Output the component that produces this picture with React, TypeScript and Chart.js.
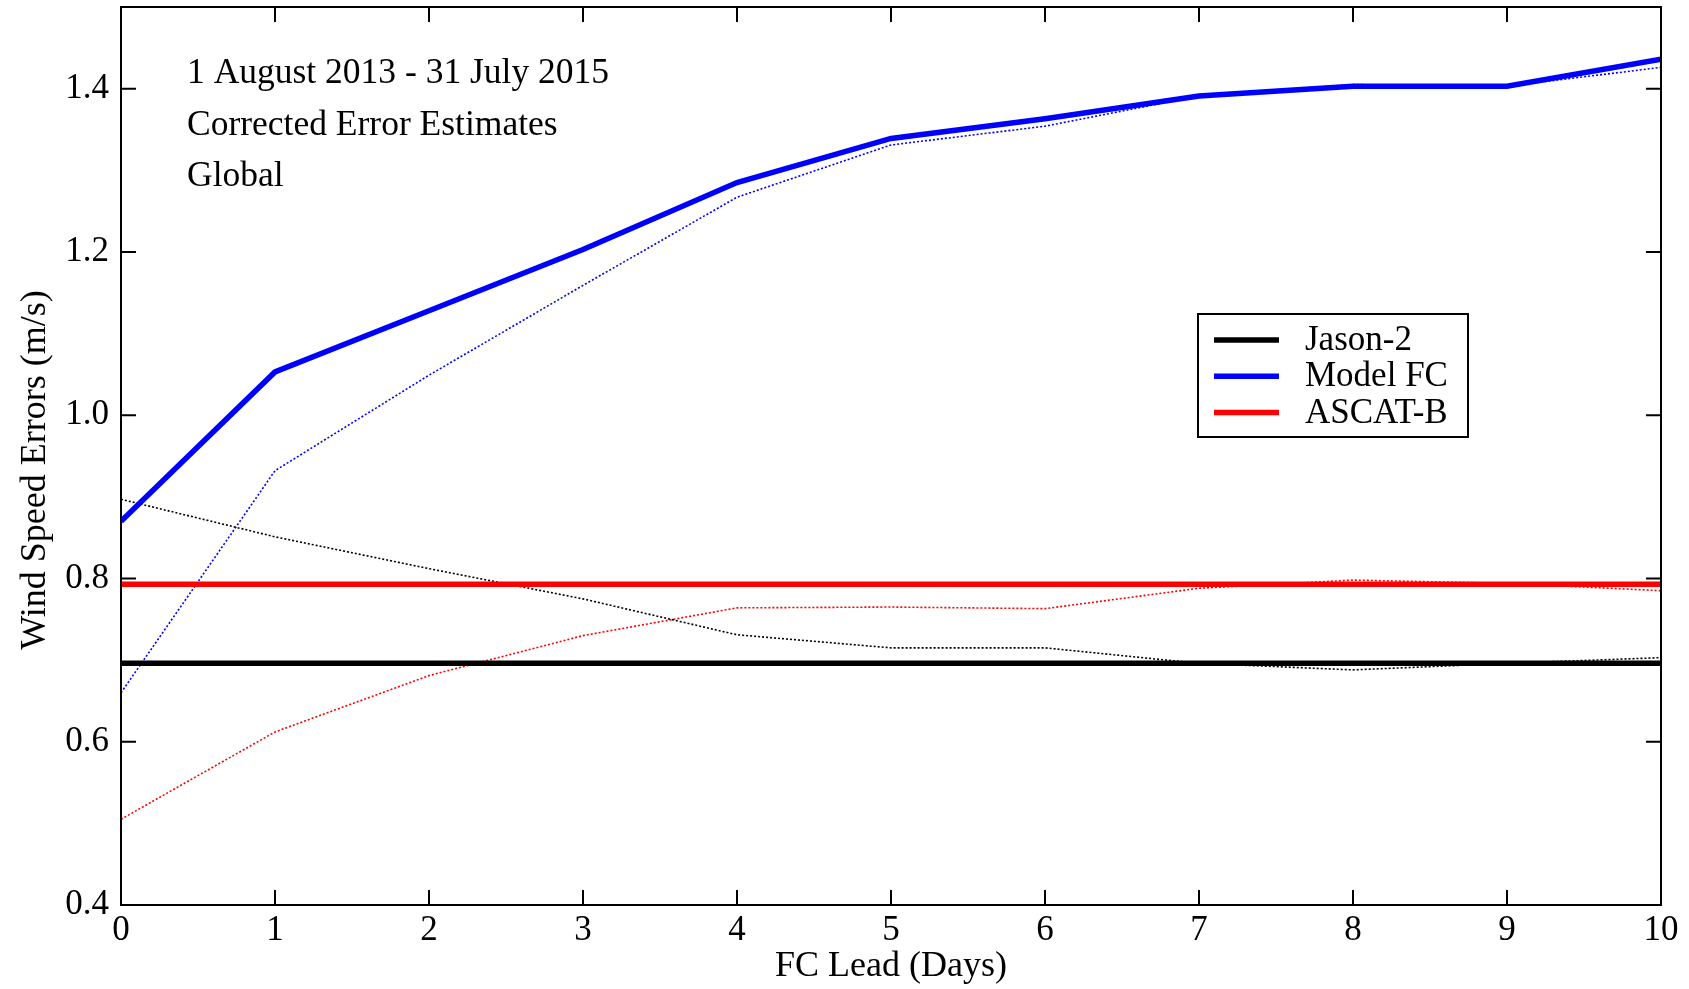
import React, { useEffect, useRef } from "react";
import { Chart, registerables } from "chart.js";

Chart.register(...registerables);

// ---- data ----
const DAYS = [0, 1, 2, 3, 4, 5, 6, 7, 8, 9, 10];
const Y_TICKS = [0.4, 0.6, 0.8, 1.0, 1.2, 1.4];

const SERIES_NAMES = ["Jason-2", "Model FC", "ASCAT-B"];
const SERIES_COLORS = ["#000000", "#0000ff", "#ff0000"];

// corrected error estimates (thick solid lines)
const JASON2_CORRECTED = [0.696, 0.696, 0.696, 0.696, 0.696, 0.696, 0.696, 0.696, 0.696, 0.696, 0.696];
const MODEL_CORRECTED = [0.870, 1.053, 1.128, 1.203, 1.285, 1.339, 1.363, 1.391, 1.403, 1.403, 1.436];
const ASCAT_CORRECTED = [0.793, 0.793, 0.793, 0.793, 0.793, 0.793, 0.793, 0.793, 0.793, 0.793, 0.793];

// uncorrected estimates (thin dotted lines)
const JASON2_RAW = [0.897, 0.851, 0.812, 0.775, 0.731, 0.715, 0.715, 0.696, 0.688, 0.696, 0.703];
const MODEL_RAW = [0.660, 0.932, 1.049, 1.159, 1.267, 1.331, 1.354, 1.391, 1.405, 1.403, 1.426];
const ASCAT_RAW = [0.505, 0.612, 0.681, 0.730, 0.764, 0.765, 0.763, 0.788, 0.798, 0.794, 0.785];

const ANNOTATION_LINES = ["1 August 2013 - 31 July 2015", "Corrected Error Estimates", "Global"];

const X_TITLE = "FC Lead (Days)";
const Y_TITLE = "Wind Speed Errors (m/s)";

const FONT = "'Liberation Serif', 'Times New Roman', serif";

const toPoints = (vals: number[]) => DAYS.map((d, i) => ({ x: d, y: vals[i] }));

const framePlugin = {
  id: "frameAndExtras",
  afterDatasetsDraw(chart: any) {
    const { ctx, chartArea: a, scales } = chart;
    ctx.save();
    // frame
    ctx.strokeStyle = "#000";
    ctx.lineWidth = 2;
    ctx.strokeRect(a.left, a.top, a.right - a.left, a.bottom - a.top);
    // inward ticks on all four sides
    const TL = 15;
    ctx.beginPath();
    scales.x.ticks.forEach((t: any) => {
      const px = scales.x.getPixelForValue(t.value);
      if (px <= a.left + 1 || px >= a.right - 1) return;
      ctx.moveTo(px, a.bottom);
      ctx.lineTo(px, a.bottom - TL);
      ctx.moveTo(px, a.top);
      ctx.lineTo(px, a.top + TL);
    });
    scales.y.ticks.forEach((t: any) => {
      const py = scales.y.getPixelForValue(t.value);
      if (py <= a.top + 1 || py >= a.bottom - 1) return;
      ctx.moveTo(a.left, py);
      ctx.lineTo(a.left + TL, py);
      ctx.moveTo(a.right, py);
      ctx.lineTo(a.right - TL, py);
    });
    ctx.stroke();

    // y-axis title
    ctx.save();
    ctx.fillStyle = "#000";
    ctx.font = `36px ${FONT}`;
    ctx.textAlign = "center";
    ctx.textBaseline = "middle";
    ctx.translate(36, 470);
    ctx.rotate(-Math.PI / 2);
    ctx.fillText(Y_TITLE, 0, 0);
    ctx.restore();

    // annotation text
    ctx.fillStyle = "#000";
    ctx.font = `35.5px ${FONT}`;
    ctx.textAlign = "left";
    ctx.textBaseline = "alphabetic";
    ANNOTATION_LINES.forEach((line, i) => {
      ctx.fillText(line, 187, 83 + i * 51.5);
    });

    // legend
    const bx = 1198, by = 314, bw = 270, bh = 123;
    ctx.fillStyle = "#fff";
    ctx.fillRect(bx, by, bw, bh);
    ctx.lineWidth = 2;
    ctx.strokeStyle = "#000";
    ctx.strokeRect(bx, by, bw, bh);
    ctx.textBaseline = "middle";
    ctx.font = `35px ${FONT}`;
    SERIES_NAMES.forEach((name, i) => {
      const y = 340 + i * 36.3;
      ctx.beginPath();
      ctx.strokeStyle = SERIES_COLORS[i];
      ctx.lineWidth = 5.5;
      ctx.moveTo(1214, y);
      ctx.lineTo(1279, y);
      ctx.stroke();
      ctx.fillStyle = "#000";
      ctx.fillText(name, 1305, y + 1);
    });
    ctx.restore();
  },
};

export default function App() {
  const canvasRef = useRef<HTMLCanvasElement | null>(null);

  useEffect(() => {
    if (!canvasRef.current) return;
    Chart.defaults.font.family = FONT;
    Chart.defaults.color = "#000";

    const solid = (vals: number[], idx: number) => ({
      label: SERIES_NAMES[idx],
      data: toPoints(vals),
      borderColor: SERIES_COLORS[idx],
      backgroundColor: SERIES_COLORS[idx],
      borderWidth: 5.5,
      pointRadius: 0,
      tension: 0,
      fill: false,
      order: 1,
    });
    const dotted = (vals: number[], idx: number) => ({
      label: SERIES_NAMES[idx] + " (uncorrected)",
      data: toPoints(vals),
      borderColor: SERIES_COLORS[idx],
      backgroundColor: SERIES_COLORS[idx],
      borderWidth: 1.6,
      borderDash: [2, 2],
      pointRadius: 0,
      tension: 0,
      fill: false,
      order: 2,
    });

    const chart = new Chart(canvasRef.current, {
      type: "line",
      data: {
        datasets: [
          solid(JASON2_CORRECTED, 0),
          solid(MODEL_CORRECTED, 1),
          solid(ASCAT_CORRECTED, 2),
          dotted(JASON2_RAW, 0),
          dotted(MODEL_RAW, 1),
          dotted(ASCAT_RAW, 2),
        ] as any,
      },
      options: {
        animation: false,
        responsive: false,
        devicePixelRatio: 1,
        layout: { padding: { top: 7, right: 28, left: 0, bottom: 0 } },
        plugins: {
          legend: { display: false },
          tooltip: { enabled: false },
        },
        scales: {
          x: {
            type: "linear",
            min: 0,
            max: 10,
            afterFit: (s: any) => {
              s.height = 84;
              s.paddingLeft = 0;
              s.paddingRight = 0;
            },
            grid: { display: false, drawTicks: false },
            border: { display: false },
            ticks: {
              stepSize: 1,
              padding: 5,
              color: "#000",
              font: { size: 35 },
              maxRotation: 0,
              autoSkip: false,
            },
            title: {
              display: true,
              text: X_TITLE,
              color: "#000",
              font: { size: 36 },
              padding: { top: 0, bottom: 1 },
            },
          },
          y: {
            type: "linear",
            min: 0.4,
            max: 1.5,
            afterBuildTicks: (s: any) => {
              s.ticks = Y_TICKS.map((v) => ({ value: v }));
            },
            afterFit: (s: any) => {
              s.width = 121;
              s.paddingTop = 0;
              s.paddingBottom = 0;
            },
            grid: { display: false, drawTicks: false },
            border: { display: false },
            ticks: {
              padding: 12,
              color: "#000",
              font: { size: 35 },
              callback: (v: any) => Number(v).toFixed(1),
            },
            title: { display: false, text: Y_TITLE },
          },
        },
      } as any,
      plugins: [framePlugin],
    });
    return () => chart.destroy();
  }, []);

  return (
    <div style={{ position: "absolute", left: 0, top: 0, width: 1689, height: 989, background: "#fff" }}>
      <canvas ref={canvasRef} width={1689} height={989} style={{ display: "block" }} />
    </div>
  );
}
